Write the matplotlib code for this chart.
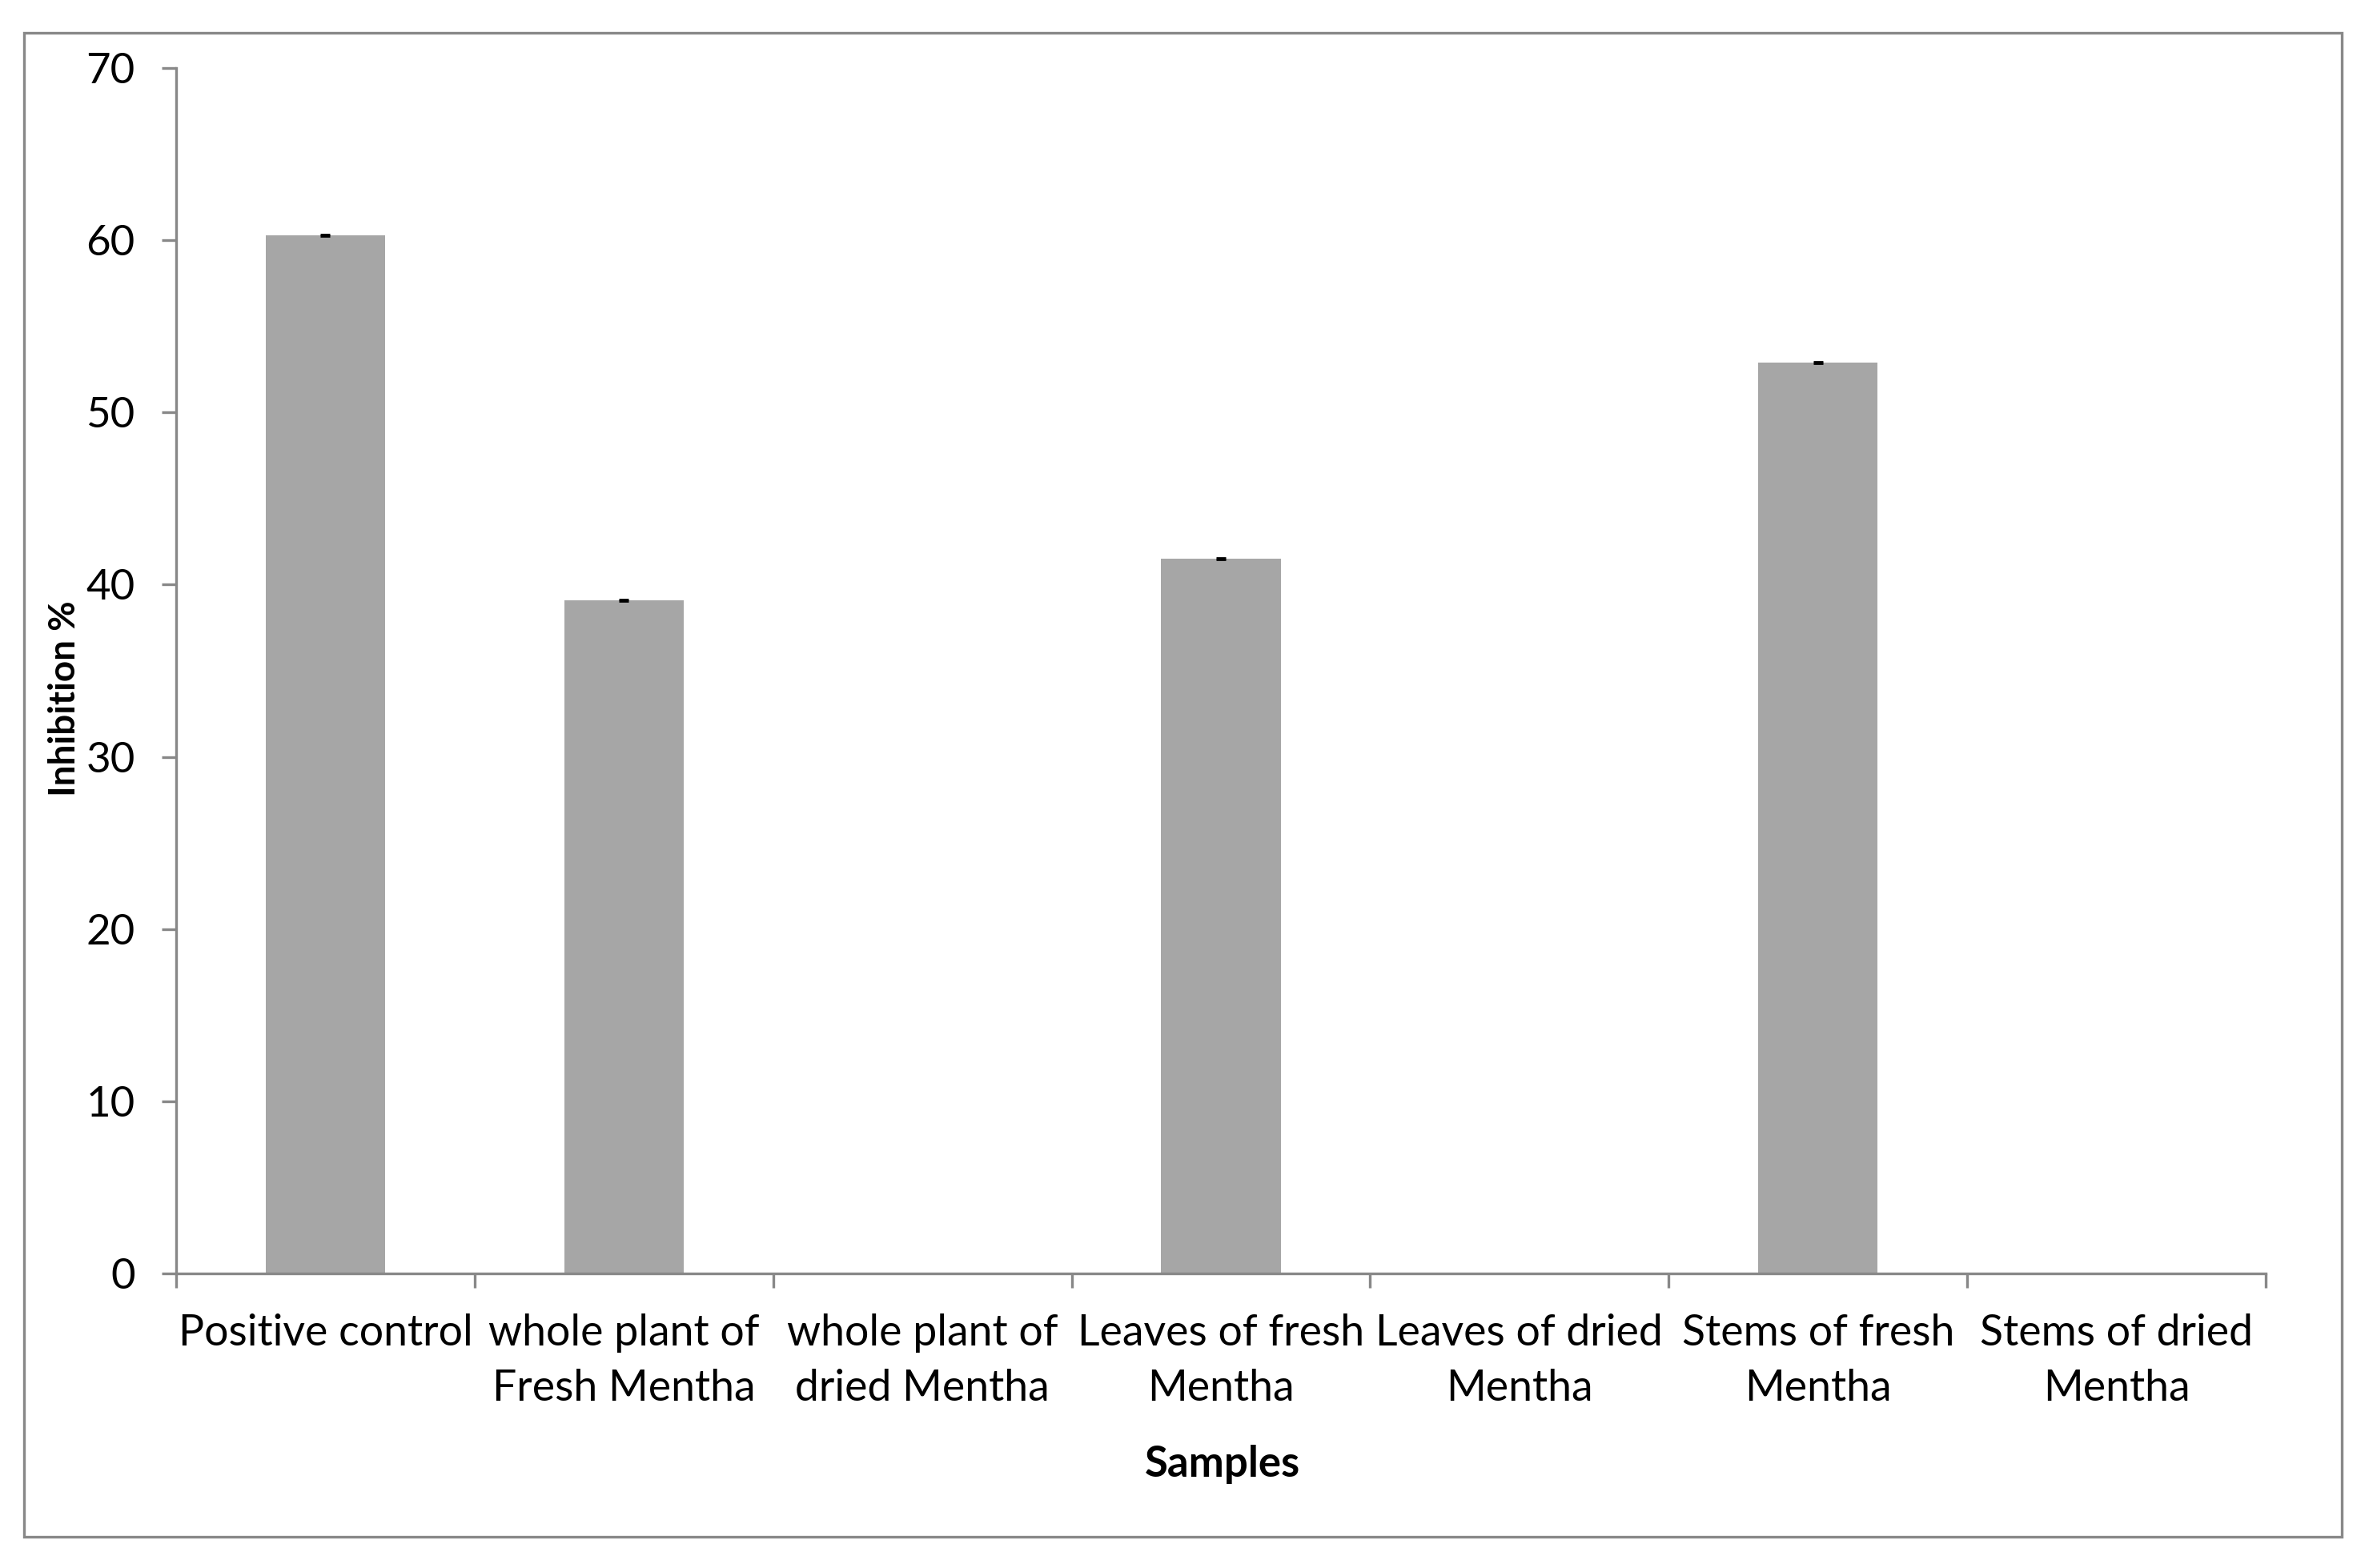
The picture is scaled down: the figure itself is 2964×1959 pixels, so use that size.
import matplotlib
matplotlib.use("Agg")
import matplotlib.pyplot as plt
from matplotlib.patches import Rectangle
import numpy as np

categories = ["Positive control", "whole plant of\nFresh Mentha", "whole plant of\ndried Mentha",
              "Leaves of fresh\nMentha", "Leaves of dried\nMentha", "Stems of fresh\nMentha",
              "Stems of dried\nMentha"]
values = [60.3, 39.1, 0, 41.5, 0, 52.9, 0]
errors = [0.05, 0.05, 0, 0.05, 0, 0.05, 0]
yticks = [0, 10, 20, 30, 40, 50, 60, 70]

plt.rcParams['font.family'] = ['Lato', 'DejaVu Sans']
W, H = 2964, 1959
dpi = 200
fig = plt.figure(figsize=(W / dpi, H / dpi), dpi=dpi)
ax = fig.add_axes([220 / W, 1 - 1591 / H, (2830 - 220) / W, (1591 - 85) / H])

gray = "#888888"
x = np.arange(len(categories))
ax.bar(x, values, width=0.4, color="#A6A6A6", zorder=2)
ex = [i for i, v in enumerate(values) if v > 0]
ax.errorbar(x[ex], [values[i] for i in ex], yerr=[errors[i] for i in ex], fmt="none",
            ecolor="black", elinewidth=1.0, capsize=2, capthick=1.0, zorder=3)

ax.set_xlim(-0.5, len(categories) - 0.5)
ax.set_ylim(0, 70)
ax.set_yticks(yticks)
ax.set_yticklabels([str(t) for t in yticks], fontsize=19)

ax.set_xticks(np.arange(len(categories) + 1) - 0.5)
ax.set_xticklabels([])
ax.set_xticks(x, minor=True)
ax.set_xticklabels(categories, minor=True, fontsize=19.3, linespacing=1.5, va="top")
ax.tick_params(axis="x", which="minor", length=0, pad=18)
ax.tick_params(axis="x", which="major", length=6.5, width=1.2, color=gray, direction="out")
ax.tick_params(axis="y", length=6.5, width=1.2, color=gray, direction="out", pad=12)

for s in ["top", "right"]:
    ax.spines[s].set_visible(False)
for s in ["left", "bottom"]:
    ax.spines[s].set_color(gray)
    ax.spines[s].set_linewidth(1.2)

fig.text(81 / W, 1 - 873 / H, "Inhibition %", rotation=90, ha="center", va="center",
         fontsize=16.5, fontweight="bold")
fig.text(1527 / W, 1 - 1830 / H, "Samples", ha="center", va="center",
         fontsize=19, fontweight="bold")

fig.patches.append(Rectangle((30 / W, 1 - 1920 / H), (2925 - 30) / W, (1920 - 41) / H,
                             transform=fig.transFigure, fill=False, edgecolor=gray,
                             linewidth=1.2, zorder=0))

fig.savefig("out.png", dpi=dpi, facecolor="white")
